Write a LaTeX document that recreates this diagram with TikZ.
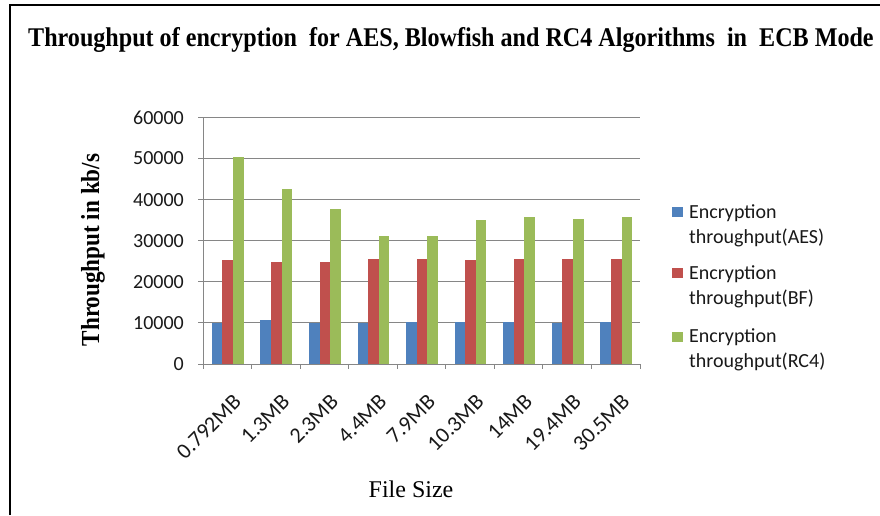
\documentclass[tikz,border=0pt]{standalone}
\usepackage{fontspec}
\setmainfont{Liberation Serif}
\newfontfamily\carl{Carlito}
\definecolor{aes}{HTML}{4F81BD}
\definecolor{bf}{HTML}{C0504D}
\definecolor{rcf}{HTML}{9BBB59}
\definecolor{gridc}{HTML}{868686}
\tikzset{
  gridline/.style={draw=gridc, line width=0.9pt},
  axisline/.style={draw=gridc, line width=0.9pt},
  ticklab/.style={font=\carl\fontsize{20}{24}\selectfont, text=black!90, inner sep=0pt},
  catlab/.style={font=\carl\fontsize{22}{26}\selectfont, text=black!90, inner sep=0pt, rotate=45, anchor=north east},
  legtext/.style={font=\carl\fontsize{20}{24}\selectfont, text=black!90, inner sep=0pt, anchor=base west},
  frameline/.style={draw=black, line width=2pt}
}
\begin{document}
\begin{tikzpicture}[x=1pt,y=1pt]
\fill[white] (0,0) rectangle (880,515);
\useasboundingbox (0,0) rectangle (880,515);
% frame
\coordinate (fl) at (10,0);
\coordinate (tl) at (10,509.5);
\coordinate (tr) at (880,509.5);
\draw[frameline] (fl) -- (tl) -- (tr);
% title
\node[anchor=base west, inner sep=0pt, font=\bfseries\fontsize{27}{30}\selectfont] (title) at (28,468)
  {\scalebox{0.893}[1]{Throughput of encryption\ \ for AES, Blowfish and RC4 Algorithms\ \ in\ \ ECB Mode}};
% gridlines and y labels
\foreach \v/\t in {0/0,1/10000,2/20000,3/30000,4/40000,5/50000,6/60000}{
  \pgfmathsetmacro\yy{151+41.1*\v}
  \ifnum\v>0 \draw[gridline] (203,\yy) -- (640,\yy); \fi
  \draw[axisline] (198,\yy) -- (203,\yy);
  \node[ticklab, anchor=east] (yl\v) at (184,\yy) {\t};
}
% bars (values in thousands)
\foreach \i/\a/\b/\c in {0/10.05/25.23/50.29, 1/10.63/24.82/42.50, 2/10.05/24.82/37.64,
  3/10.05/25.55/31.22, 4/10.14/25.55/31.22, 5/10.10/25.23/34.96, 6/10.10/25.55/35.69,
  7/10.05/25.55/35.36, 8/10.10/25.55/35.69}{
  \pgfmathsetmacro\cx{203+48.56*(\i+0.5)}
  \pgfmathsetmacro\ha{151+4.11*\a}
  \pgfmathsetmacro\hb{151+4.11*\b}
  \pgfmathsetmacro\hc{151+4.11*\c}
  \fill[aes] (\cx-15.4,151) rectangle (\cx-4.8,\ha);
  \fill[bf] (\cx-4.8,151) rectangle (\cx+5.8,\hb);
  \fill[rcf] (\cx+5.8,151) rectangle (\cx+16.4,\hc);
}
% axes
\draw[axisline] (203,151) -- (203,397.6);
\draw[axisline] (203,151) -- (640,151);
\foreach \k in {0,...,9}{
  \pgfmathsetmacro\xx{203+48.56*\k}
  \draw[axisline] (\xx,151) -- (\xx,146);
}
% category labels
\foreach \i/\t in {0/0.792MB,1/1.3MB,2/2.3MB,3/4.4MB,4/7.9MB,5/10.3MB,6/14MB,7/19.4MB,8/30.5MB}{
  \pgfmathsetmacro\cx{203+48.56*(\i+0.5)}
  \node[catlab] (c\i) at (\cx+5,122) {\t};
}
% axis titles
\node[rotate=90, inner sep=0pt, font=\bfseries\fontsize{26}{30}\selectfont] (ytitle) at (93,265)
  {\scalebox{0.89}[1]{Throughput in kb/s}};
\node[inner sep=0pt, font=\fontsize{24}{28}\selectfont] (xtitle) at (411,26) {File Size};
% legend
\fill[aes] (672,298) rectangle (683,308);
\node[legtext] (la1) at (689,296.7) {Encryption};
\node[legtext] (la2) at (689,271.7) {throughput(AES)};
\fill[bf] (672,237) rectangle (683,247);
\node[legtext] (lb1) at (689,235.7) {Encryption};
\node[legtext] (lb2) at (689,210.7) {throughput(BF)};
\fill[rcf] (672,173) rectangle (683,183);
\node[legtext] (lc1) at (689,173) {Encryption};
\node[legtext] (lc2) at (689,148) {throughput(RC4)};
\end{tikzpicture}
\end{document}
